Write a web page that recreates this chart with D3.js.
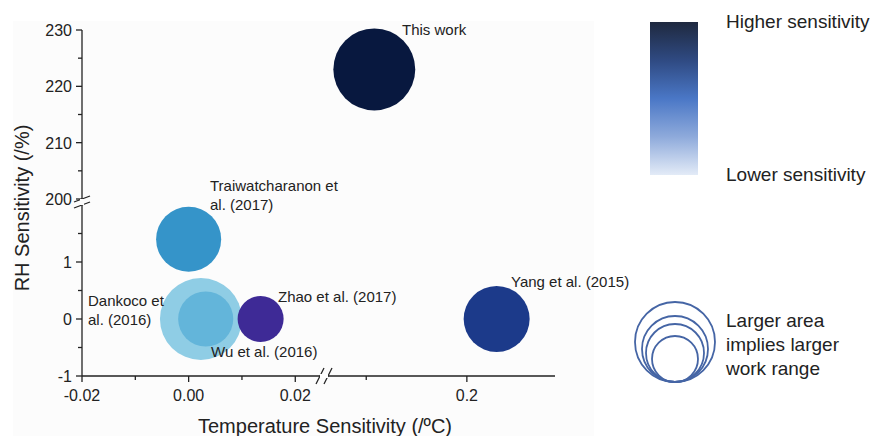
<!DOCTYPE html>
<html><head><meta charset="utf-8">
<script src="https://cdn.jsdelivr.net/npm/d3@7"></script>
<style>body{margin:0;background:#fff;} svg{display:block;font-family:Arial,"Liberation Sans",sans-serif;}</style>
</head><body>
<svg id="c" width="874" height="436"></svg>
<script>
// ---- data ----
const studies = ["Dankoco et al. (2016)", "Wu et al. (2016)", "Traiwatcharanon et al. (2017)", "Zhao et al. (2017)", "Yang et al. (2015)", "This work"];
const tempSens = [0.0023, 0.0032, 0.0000, 0.0135, 0.2148, 0.154];
const rhSens   = [0, 0, 1.4, 0, 0, 223];
const workRange = [1680, 760, 1060, 530, 1090, 1680];
const colors = ["#8fcde5", "#63b5da", "#3594c9", "#3e2a96", "#1c3a8a", "#08183f"];
const labelLines = [["Dankoco et", "al. (2016)"], ["Wu et al. (2016)"], ["Traiwatcharanon et", "al. (2017)"], ["Zhao et al. (2017)"], ["Yang et al. (2015)"], ["This work"]];
const xTicksLow = [-0.02, 0.00, 0.02];
const xTickLabelsLow = ["-0.02", "0.00", "0.02"];
const xTicksHigh = [0.2];
const xTickLabelsHigh = ["0.2"];
const yTicksLow = [-1, 0, 1];
const yTicksHigh = [200, 210, 220, 230];
const legendRadii = [40, 33, 29, 23];

// ---- layout ----
const svg = d3.select("#c");
const x0 = 82, yAxis = 376;
svg.append("rect").attr("x", 13).attr("y", 21).attr("width", 581).attr("height", 415).attr("fill", "#fcfcfc");

const xLow = d3.scaleLinear().domain([-0.02, 0.0252]).range([82, 323]);
const xHigh = d3.scaleLinear().domain([0.13, 0.2438]).range([326, 555]);
const yLow = d3.scaleLinear().domain([-1, 2]).range([376, 205]);
const yHigh = d3.scaleLinear().domain([200, 230]).range([199, 30]);
const X = v => v < 0.1 ? xLow(v) : xHigh(v);
const Y = v => v < 100 ? yLow(v) : yHigh(v);
const rScale = d3.scaleSqrt().domain([0, 1700]).range([0, 41.2]);

// ---- bubbles ----
const data = studies.map((s, i) => ({s, x: tempSens[i], y: rhSens[i], r: workRange[i], c: colors[i], lab: labelLines[i]}));
svg.append("g").selectAll("circle").data(data).join("circle")
  .attr("cx", d => X(d.x)).attr("cy", d => Y(d.y)).attr("r", d => rScale(d.r))
  .attr("fill", d => d.c);

// ---- labels ----
const labelPos = [[88, 306], [211, 357], [210, 191], [278, 302], [511, 287], [402, 35]];
const lg = svg.append("g").attr("font-size", 15).attr("fill", "#222");
data.forEach((d, i) => {
  const t = lg.append("text").attr("x", labelPos[i][0]).attr("y", labelPos[i][1]);
  d.lab.forEach((ln, k) => t.append("tspan").attr("x", labelPos[i][0]).attr("dy", k ? 19 : 0).text(ln));
});

// ---- axes ----
const ax = svg.append("g").attr("stroke", "#222").attr("stroke-width", 1.3).attr("fill", "none");
ax.append("line").attr("x1", x0).attr("x2", 555).attr("y1", yAxis).attr("y2", yAxis);
ax.append("line").attr("x1", x0).attr("x2", x0).attr("y1", 30).attr("y2", yAxis);
// x ticks
[...xTicksLow.map(xLow), ...xTicksHigh.map(xHigh)].forEach(px => ax.append("line").attr("x1", px).attr("x2", px).attr("y1", yAxis).attr("y2", yAxis + 6));
[xLow(-0.01), xLow(0.01), xHigh(0.15)].forEach(px => ax.append("line").attr("x1", px).attr("x2", px).attr("y1", yAxis).attr("y2", yAxis + 4));
// y ticks
[...yTicksLow.map(yLow), ...yTicksHigh.map(yHigh)].forEach(py => ax.append("line").attr("x1", x0 - 6).attr("x2", x0).attr("y1", py).attr("y2", py));
[yLow(-0.5), yLow(0.5), yLow(1.5), yHigh(205), yHigh(215), yHigh(225)].forEach(py => ax.append("line").attr("x1", x0 - 4).attr("x2", x0).attr("y1", py).attr("y2", py));
// break marks
const bx = 324;
svg.append("rect").attr("x", bx - 4).attr("y", yAxis - 2).attr("width", 8).attr("height", 4).attr("fill", "#fff");
[-4, 4].forEach(o => ax.append("line").attr("x1", bx + o - 4).attr("x2", bx + o + 4).attr("y1", yAxis + 8).attr("y2", yAxis - 8));
const by = 202;
svg.append("rect").attr("x", x0 - 2).attr("y", by - 3).attr("width", 4).attr("height", 6).attr("fill", "#fcfcfc");
[-3, 3].forEach(o => ax.append("line").attr("x1", x0 - 8).attr("x2", x0 + 8).attr("y1", by + o + 3).attr("y2", by + o - 3));

// tick labels
const tl = svg.append("g").attr("font-size", 16).attr("fill", "#222");
xTicksLow.forEach((v, i) => tl.append("text").attr("x", xLow(v)).attr("y", 401).attr("text-anchor", "middle").text(xTickLabelsLow[i]));
xTicksHigh.forEach((v, i) => tl.append("text").attr("x", xHigh(v)).attr("y", 401).attr("text-anchor", "middle").text(xTickLabelsHigh[i]));
yTicksLow.forEach(v => tl.append("text").attr("x", 72).attr("y", yLow(v) + 6).attr("text-anchor", "end").text(v));
yTicksHigh.forEach(v => tl.append("text").attr("x", 72).attr("y", yHigh(v) + 6).attr("text-anchor", "end").text(v));

// axis titles
svg.append("text").attr("x", 325).attr("y", 433).attr("text-anchor", "middle").attr("font-size", 20).attr("fill", "#222").text("Temperature Sensitivity (/ºC)");
svg.append("text").attr("transform", "translate(29,208) rotate(-90)").attr("text-anchor", "middle").attr("font-size", 20).attr("fill", "#222").text("RH Sensitivity (/%)");

// ---- colour legend ----
const defs = svg.append("defs");
const grad = defs.append("linearGradient").attr("id", "g").attr("x1", 0).attr("x2", 0).attr("y1", 0).attr("y2", 1);
[["0", "#1f293f"], ["0.25", "#2f4a82"], ["0.5", "#4a77c6"], ["0.75", "#8eaadb"], ["1", "#e3ebf7"]].forEach(s => grad.append("stop").attr("offset", s[0]).attr("stop-color", s[1]));
svg.append("rect").attr("x", 650).attr("y", 22).attr("width", 48).attr("height", 153).attr("fill", "url(#g)");
svg.append("text").attr("x", 726).attr("y", 28).attr("font-size", 19).attr("fill", "#222").text("Higher sensitivity");
svg.append("text").attr("x", 726).attr("y", 181).attr("font-size", 19).attr("fill", "#222").text("Lower sensitivity");

// ---- size legend ----
svg.append("g").selectAll("circle").data(legendRadii).join("circle")
  .attr("cx", 675).attr("cy", r => 382 - r).attr("r", r => r)
  .attr("fill", "none").attr("stroke", "#4565a5").attr("stroke-width", 1.8);
const st = svg.append("text").attr("font-size", 19).attr("fill", "#222");
["Larger area", "implies larger", "work range"].forEach((ln, k) => st.append("tspan").attr("x", 726).attr("y", 327 + k * 24).text(ln));
</script>
</body></html>
